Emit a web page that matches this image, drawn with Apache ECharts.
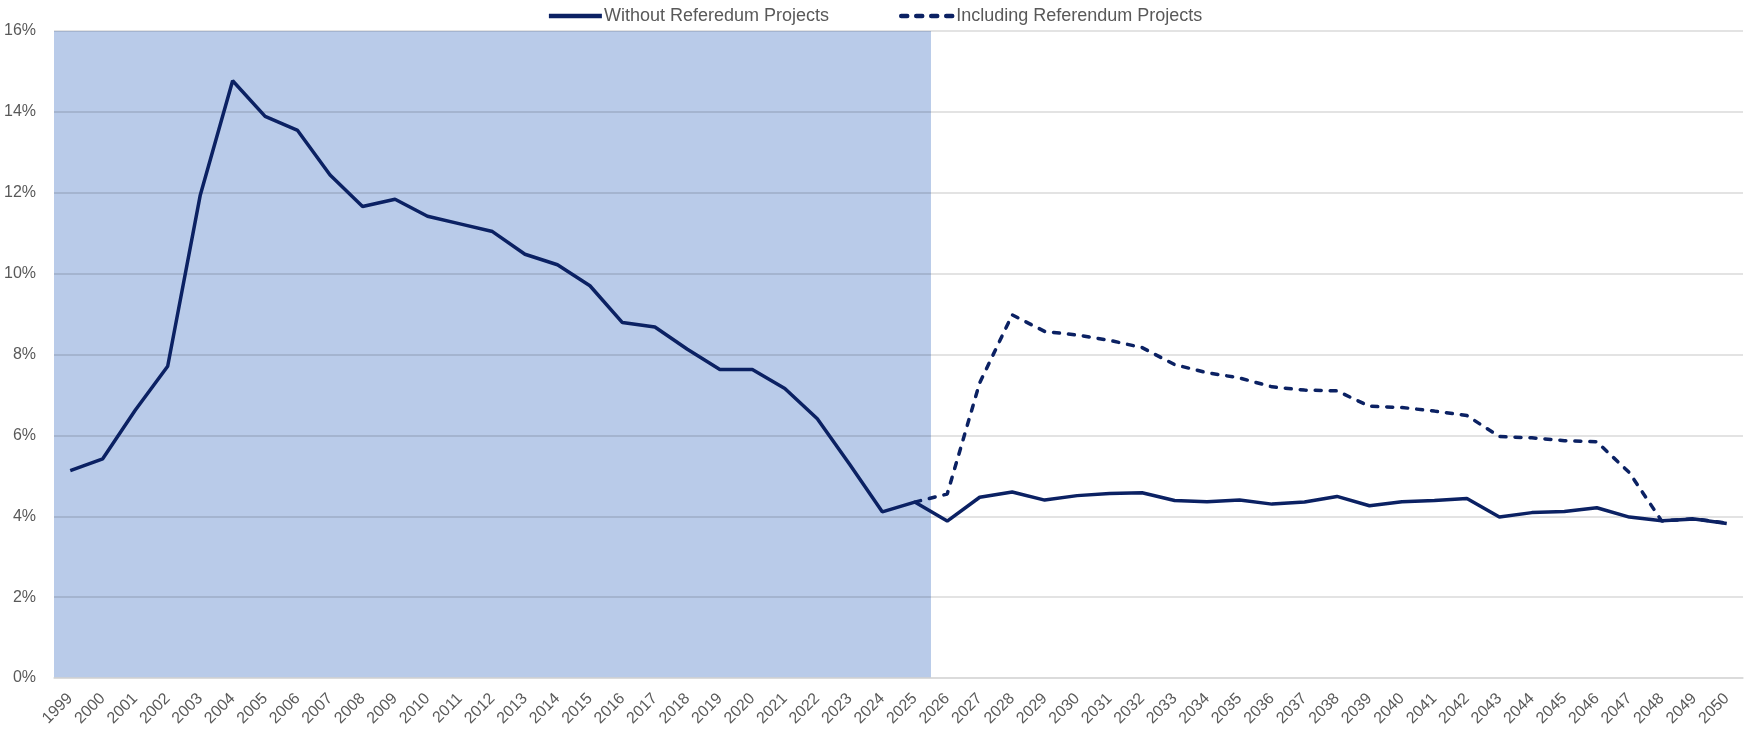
<!DOCTYPE html>
<html>
<head>
<meta charset="utf-8">
<script src="https://cdn.jsdelivr.net/npm/echarts@6/dist/echarts.min.js"></script>
<style>
  html, body { margin: 0; padding: 0; background: #fff; }
  #main { width: 1749px; height: 736px; }
</style>
</head>
<body>
<div id="main"></div>
<script>
var years = ['1999', '2000', '2001', '2002', '2003', '2004', '2005', '2006', '2007', '2008',
    '2009', '2010', '2011', '2012', '2013', '2014', '2015', '2016', '2017', '2018',
    '2019', '2020', '2021', '2022', '2023', '2024', '2025', '2026', '2027', '2028',
    '2029', '2030', '2031', '2032', '2033', '2034', '2035', '2036', '2037', '2038',
    '2039', '2040', '2041', '2042', '2043', '2044', '2045', '2046', '2047', '2048',
    '2049', '2050'];

// % values
var withoutRef = [5.13, 5.42, 6.62, 7.71, 11.93, 14.77, 13.89, 13.54, 12.44, 11.66,
    11.84, 11.42, 11.23, 11.04, 10.48, 10.22, 9.70, 8.79, 8.68, 8.13,
    7.63, 7.63, 7.16, 6.41, 5.28, 4.11, 4.35, 3.88, 4.47, 4.60,
    4.40, 4.51, 4.56, 4.58, 4.39, 4.36, 4.40, 4.30, 4.35, 4.49,
    4.26, 4.36, 4.39, 4.44, 3.98, 4.09, 4.12, 4.21, 3.98, 3.89,
    3.93, 3.82];

// dashed line only exists from 2025 on
var withRef = [null, null, null, null, null, null, null, null, null, null,
    null, null, null, null, null, null, null, null, null, null,
    null, null, null, null, null, null, 4.35, 4.55, 7.30, 8.98,
    8.57, 8.48, 8.35, 8.17, 7.75, 7.55, 7.42, 7.20, 7.12, 7.10,
    6.72, 6.69, 6.60, 6.49, 5.97, 5.94, 5.87, 5.84, 5.08, 3.88,
    3.94, 3.83];

// shaded historical period: first year, last year, top of band (%)
var shadeFrom = '1999';
var shadeTo = '2025';
var shadeTop = 16;

var yTicks = { min: 0, max: 16, step: 2 };

var navy = '#0b2163';
var shadeColor = '#b9cbe9';
var font = "'Liberation Sans', Arial, sans-serif";

var myChart = echarts.init(document.getElementById('main'));

// one rectangle covering whole category bands, placed with the axis scales
function renderShade(params, api) {
    var topLeft = api.coord([api.value(0), api.value(2)]);
    var bottomRight = api.coord([api.value(1), 0]);
    var band = api.size([1, 0])[0];
    return {
        type: 'rect',
        shape: {
            x: topLeft[0] - band / 2,
            y: topLeft[1],
            width: bottomRight[0] - topLeft[0] + band,
            height: bottomRight[1] - topLeft[1]
        },
        style: { fill: shadeColor }
    };
}

var option = {
    animation: false,
    legend: {
        data: ['Without Referedum Projects', 'Including Referendum Projects'],
        top: 2,
        left: 'center',
        itemWidth: 53,
        itemHeight: 14,
        itemGap: 70,
        itemStyle: { opacity: 0 },
        lineStyle: { width: 4.5 },
        textStyle: { color: '#595959', fontSize: 18, fontFamily: font, padding: [0, 0, 0, -3] }
    },
    grid: {
        left: 54,
        right: 6,
        top: 31,
        bottom: 58,
        outerBoundsMode: 'none'
    },
    xAxis: {
        type: 'category',
        data: years,
        boundaryGap: true,
        z: 3,
        axisLine: { lineStyle: { color: '#d9d9d9', width: 1.5 } },
        axisTick: { show: false },
        axisLabel: {
            rotate: 45,
            interval: 0,
            margin: 18,
            color: '#595959',
            fontSize: 16,
            fontFamily: font
        }
    },
    yAxis: {
        type: 'value',
        min: yTicks.min,
        max: yTicks.max,
        interval: yTicks.step,
        z: 3,
        axisLine: { show: false },
        axisTick: { show: false },
        axisLabel: {
            formatter: '{value}%',
            margin: 18,
            color: '#595959',
            fontSize: 16,
            fontFamily: font
        },
        splitLine: { lineStyle: { color: 'rgba(0, 0, 0, 0.15)', width: 1.5 } }
    },
    series: [
        {
            name: 'history',
            type: 'custom',
            renderItem: renderShade,
            data: [[years.indexOf(shadeFrom), years.indexOf(shadeTo), shadeTop]],
            encode: { x: [0, 1], y: 2 },
            silent: true,
            z: 1
        },
        {
            name: 'Including Referendum Projects',
            type: 'line',
            data: withRef,
            symbol: 'none',
            z: 5,
            lineStyle: { color: navy, width: 3.5, type: [6, 9], cap: 'round' },
            itemStyle: { color: navy }
        },
        {
            name: 'Without Referedum Projects',
            type: 'line',
            data: withoutRef,
            symbol: 'none',
            z: 6,
            lineStyle: { color: navy, width: 3.5 },
            itemStyle: { color: navy }
        }
    ]
};

myChart.setOption(option);
</script>
</body>
</html>
